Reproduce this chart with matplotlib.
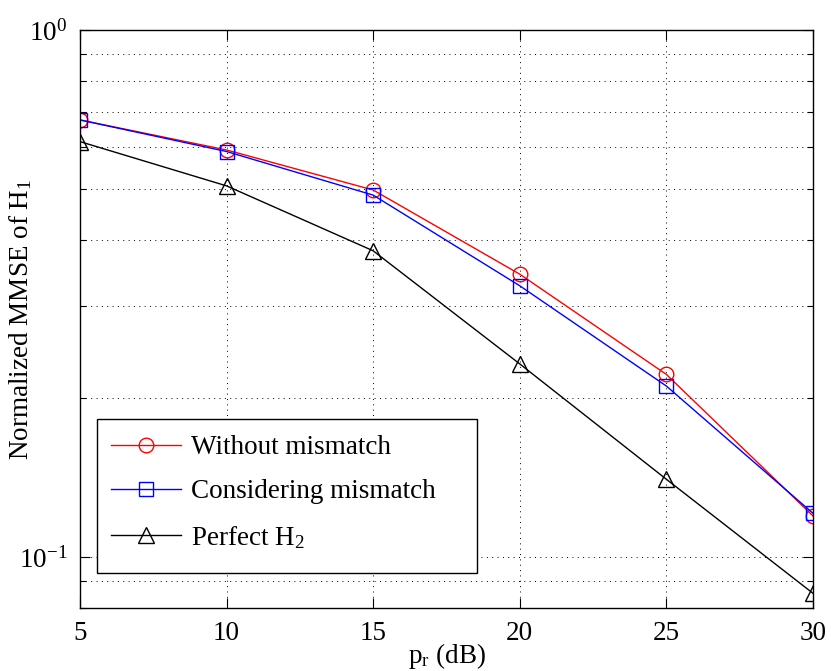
import matplotlib
matplotlib.use('Agg')
import matplotlib.pyplot as plt
from matplotlib.patches import Rectangle
from matplotlib.ticker import LogLocator, NullFormatter, FixedLocator

# data
pr_db = [5, 10, 15, 20, 25, 30]
mse_without = [0.675, 0.592, 0.497, 0.344, 0.222, 0.1196]
mse_considering = [0.675, 0.588, 0.486, 0.327, 0.211, 0.121]
mse_perfect = [0.614, 0.506, 0.381, 0.2324, 0.1404, 0.0853]
labels = ['Without mismatch', 'Considering mismatch', r'Perfect H$_2$']

plt.rcParams['font.family'] = ['Liberation Serif', 'DejaVu Serif']
plt.rcParams['mathtext.fontset'] = 'custom'
plt.rcParams['mathtext.rm'] = 'Liberation Serif'
plt.rcParams['mathtext.it'] = 'Liberation Serif:italic'
plt.rcParams['mathtext.default'] = 'regular'
fontsize = 19.5

fig = plt.figure(figsize=(8.31, 6.71), dpi=100)
ax = fig.add_axes([80/831, 1-608/671, 733/831, 578/671])

ax.plot(pr_db, mse_without, 'r-o', lw=1.0, ms=10.5, mfc='none', mew=1.0, label=labels[0])
ax.plot(pr_db, mse_considering, 'b-s', lw=1.0, ms=9.5, mfc='none', mew=1.0, label=labels[1])
ax.plot(pr_db, mse_perfect, 'k-^', lw=1.0, ms=11.5, mfc='none', mew=1.0, label=labels[2])

ax.set_yscale('log')
ax.set_xlim(5, 30)
ax.set_ylim(0.08, 1)
ax.xaxis.set_major_locator(FixedLocator(pr_db))
ax.yaxis.set_major_locator(LogLocator(base=10))
ax.yaxis.set_minor_locator(LogLocator(base=10, subs=range(2, 10)))
ax.yaxis.set_minor_formatter(NullFormatter())

dots = (0, (1, 4.5))
ax.grid(True, which='major', axis='both', color='k', ls=dots, lw=0.7)
ax.grid(True, which='minor', axis='y', color='k', ls=dots, lw=0.7)

ax.tick_params(which='both', direction='in', top=True, right=True, labelsize=fontsize, width=0.8)
ax.tick_params(which='major', length=7, pad=9)
ax.tick_params(which='minor', length=4)
for s in ax.spines.values():
        s.set_linewidth(1.0)

ax.set_xlabel(r'p$_r$ (dB)', fontsize=fontsize, labelpad=-3)
ax.set_ylabel(r'Normalized MMSE of H$_1$', fontsize=fontsize)
ax.yaxis.set_label_coords(-46/733, 0.5)

# MATLAB style legend box (wider than its contents)
box = Rectangle((17/733, 35/578), 380/733, 154/578, transform=ax.transAxes,
                facecolor='white', edgecolor='k', lw=1.0, zorder=4)
ax.add_patch(box)
leg = ax.legend(loc='upper left', bbox_to_anchor=(31/733, 173/578), borderaxespad=0,
                borderpad=0, frameon=False, fontsize=fontsize,
                handlelength=2.6, handletextpad=0.35, labelspacing=0.72)
leg.set_zorder(5)

fig.savefig('out.png', dpi=100)
